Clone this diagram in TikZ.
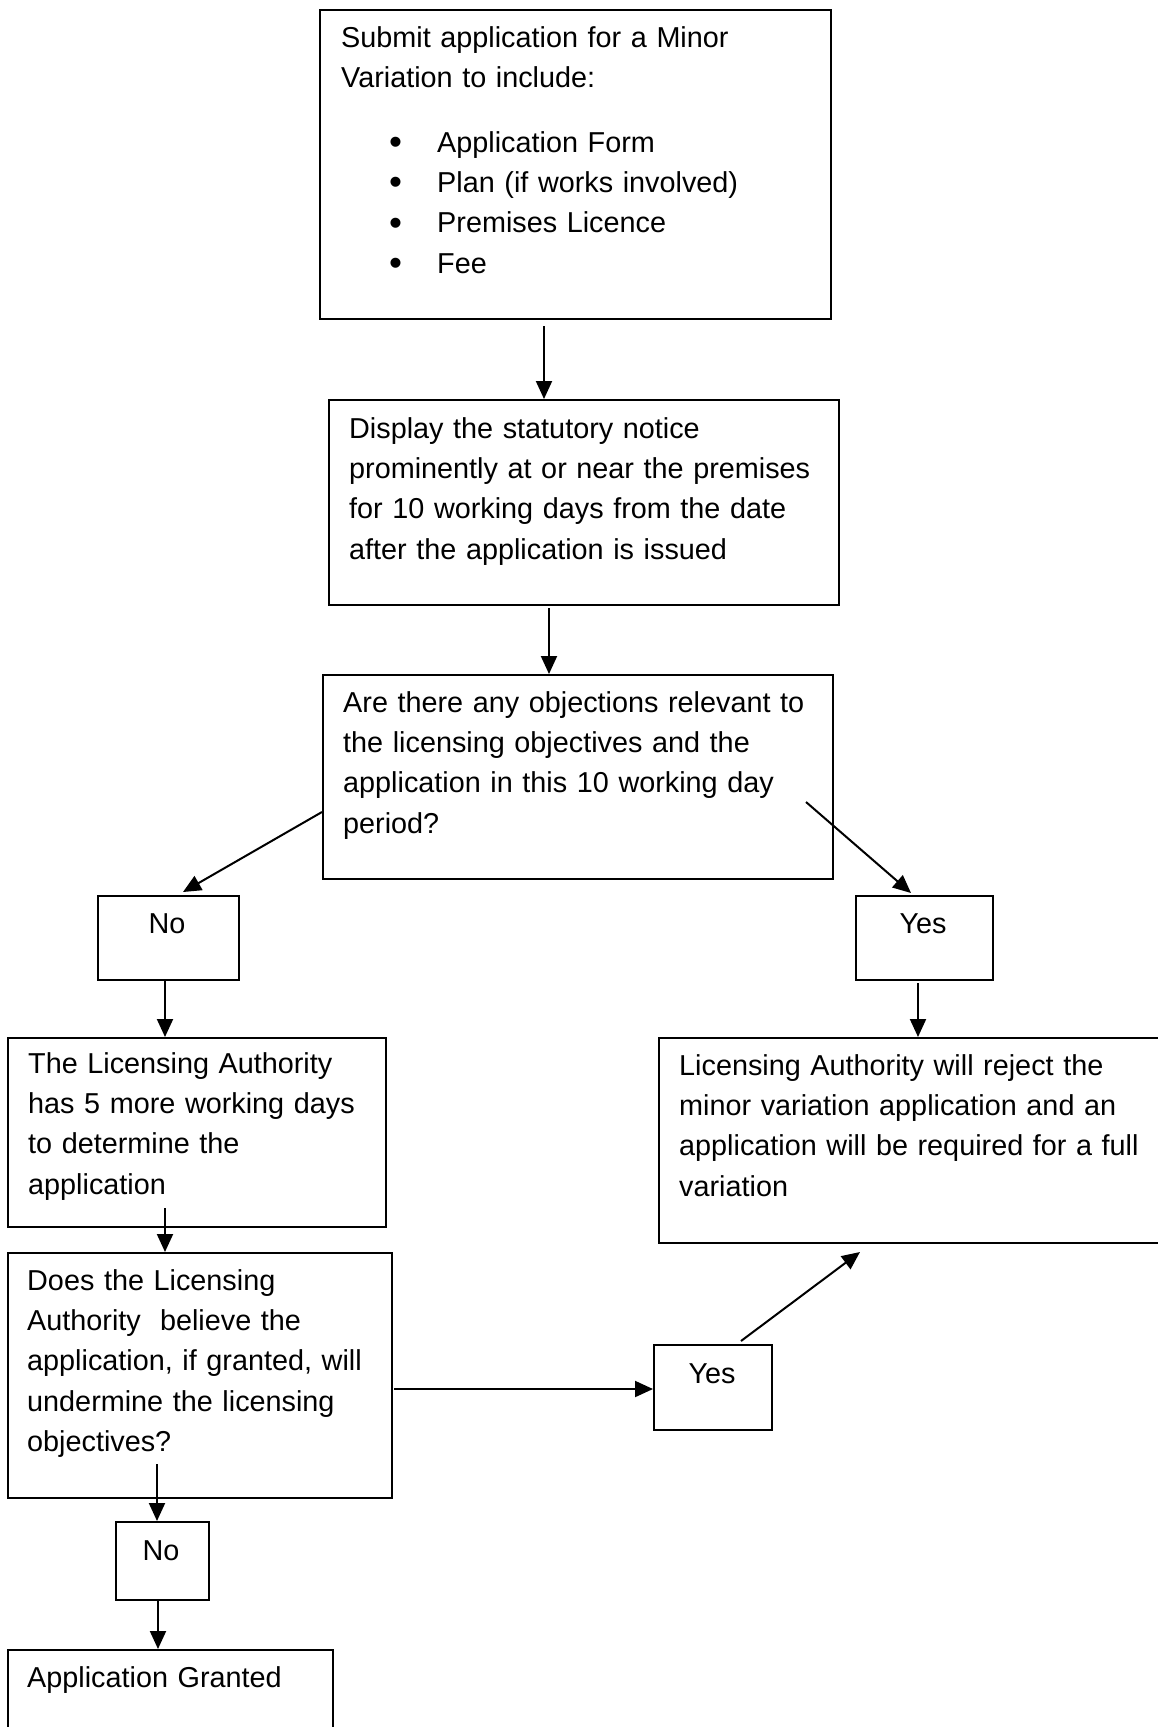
\documentclass[tikz,border=0pt]{standalone}
\usepackage{fontspec}
\setmainfont{Liberation Sans}
\usetikzlibrary{arrows.meta}
\newcommand{\bigbul}{\makebox[48pt][l]{\raisebox{-2.5pt}{\fontsize{37pt}{40pt}\selectfont\textbullet}}}
\begin{document}
\begin{tikzpicture}[x=1pt,y=-1pt,
  box/.style={draw=black, line width=2pt, rectangle, inner sep=0pt, anchor=north west},
  txt/.style={inner sep=0pt, anchor=base west, text width=700pt, align=left, font=\fontsize{28.8pt}{40.4pt}\selectfont},
  lbl/.style={inner sep=0pt, anchor=base, font=\fontsize{28.8pt}{40.4pt}\selectfont},
  arr/.style={line width=2pt, -{Triangle[length=18pt,width=16pt]}}]
\useasboundingbox (0,0) rectangle (1158,1727);
\fill[white] (0,0) rectangle (1158,1727);

% boxes
\node[box, minimum width=511pt, minimum height=309pt] (b1) at (319,9) {};
\node[box, minimum width=510pt, minimum height=205pt] (b2) at (328,399) {};
\node[box, minimum width=510pt, minimum height=204pt] (b3) at (322,674) {};
\node[box, minimum width=141pt, minimum height=84pt] (no1) at (97,895) {};
\node[box, minimum width=137pt, minimum height=84pt] (yes1) at (855,895) {};
\node[box, minimum width=378pt, minimum height=189pt] (la5) at (7,1037) {};
\node[box, minimum width=520pt, minimum height=205pt] (rej) at (658,1037) {};
\node[box, minimum width=384pt, minimum height=245pt] (q) at (7,1252) {};
\node[box, minimum width=118pt, minimum height=85pt] (yes2) at (653,1344) {};
\node[box, minimum width=93pt, minimum height=78pt] (no2) at (115,1521) {};
\node[box, minimum width=325pt, minimum height=100pt] (gr) at (7,1649) {};

% texts
\node[txt] (b1h) at (341,47) {Submit application for a Minor\\Variation to include:};
\node[txt] (b1l) at (389,152) {\bigbul Application Form\\
\bigbul Plan (if works involved)\\
\bigbul Premises Licence\\
\bigbul Fee};
\node[txt] (b2t) at (349,438) {Display the statutory notice\\prominently at or near the premises\\for 10 working days from the date\\after the application is issued};
\node[txt] (b3t) at (343,712) {Are there any objections relevant to\\the licensing objectives and the\\application in this 10 working day\\period?};
\node[lbl] (no1t) at (167,933) {No};
\node[lbl] (yes1t) at (923,933) {Yes};
\node[txt] (la5t) at (28,1073) {The Licensing Authority\\has 5 more working days\\to determine the\\application};
\node[txt] (rejt) at (679,1075) {Licensing Authority will reject the\\minor variation application and an\\application will be required for a full\\variation};
\node[txt] (qt) at (27,1290) {Does the Licensing\\Authority\ \ believe the\\application, if granted, will\\undermine the licensing\\objectives?};
\node[lbl] (yes2t) at (712,1383) {Yes};
\node[lbl] (no2t) at (161,1560) {No};
\node[txt] (grt) at (27,1687) {Application Granted};

% connector end points
\coordinate (a1s) at (544,326);
\coordinate (a2s) at (549,608);
\coordinate (a3s) at (322,812);
\coordinate (a3e) at (183,892);
\coordinate (a4s) at (806,802);
\coordinate (a4e) at (911,893);
\coordinate (a5s) at (165,979);
\coordinate (a6s) at (918,983);
\coordinate (a7s) at (165,1208);
\coordinate (a8s) at (394,1389);
\coordinate (a9s) at (741,1341);
\coordinate (a9e) at (860,1252);
\coordinate (a10s) at (157,1464);
\coordinate (a11s) at (158,1599);

% connectors
\draw[arr] (a1s) -- (a1s |- b2.north);
\draw[arr] (a2s) -- (a2s |- b3.north);
\draw[arr] (a3s) -- (a3e);
\draw[arr] (a4s) -- (a4e);
\draw[arr] (a5s) -- (a5s |- la5.north);
\draw[arr] (a6s) -- (a6s |- rej.north);
\draw[arr] (a7s) -- (a7s |- q.north);
\draw[arr] (a8s) -- (a8s -| yes2.west);
\draw[arr] (a9s) -- (a9e);
\draw[arr] (a10s) -- (a10s |- no2.north);
\draw[arr] (a11s) -- (a11s |- gr.north);
\end{tikzpicture}
\end{document}
